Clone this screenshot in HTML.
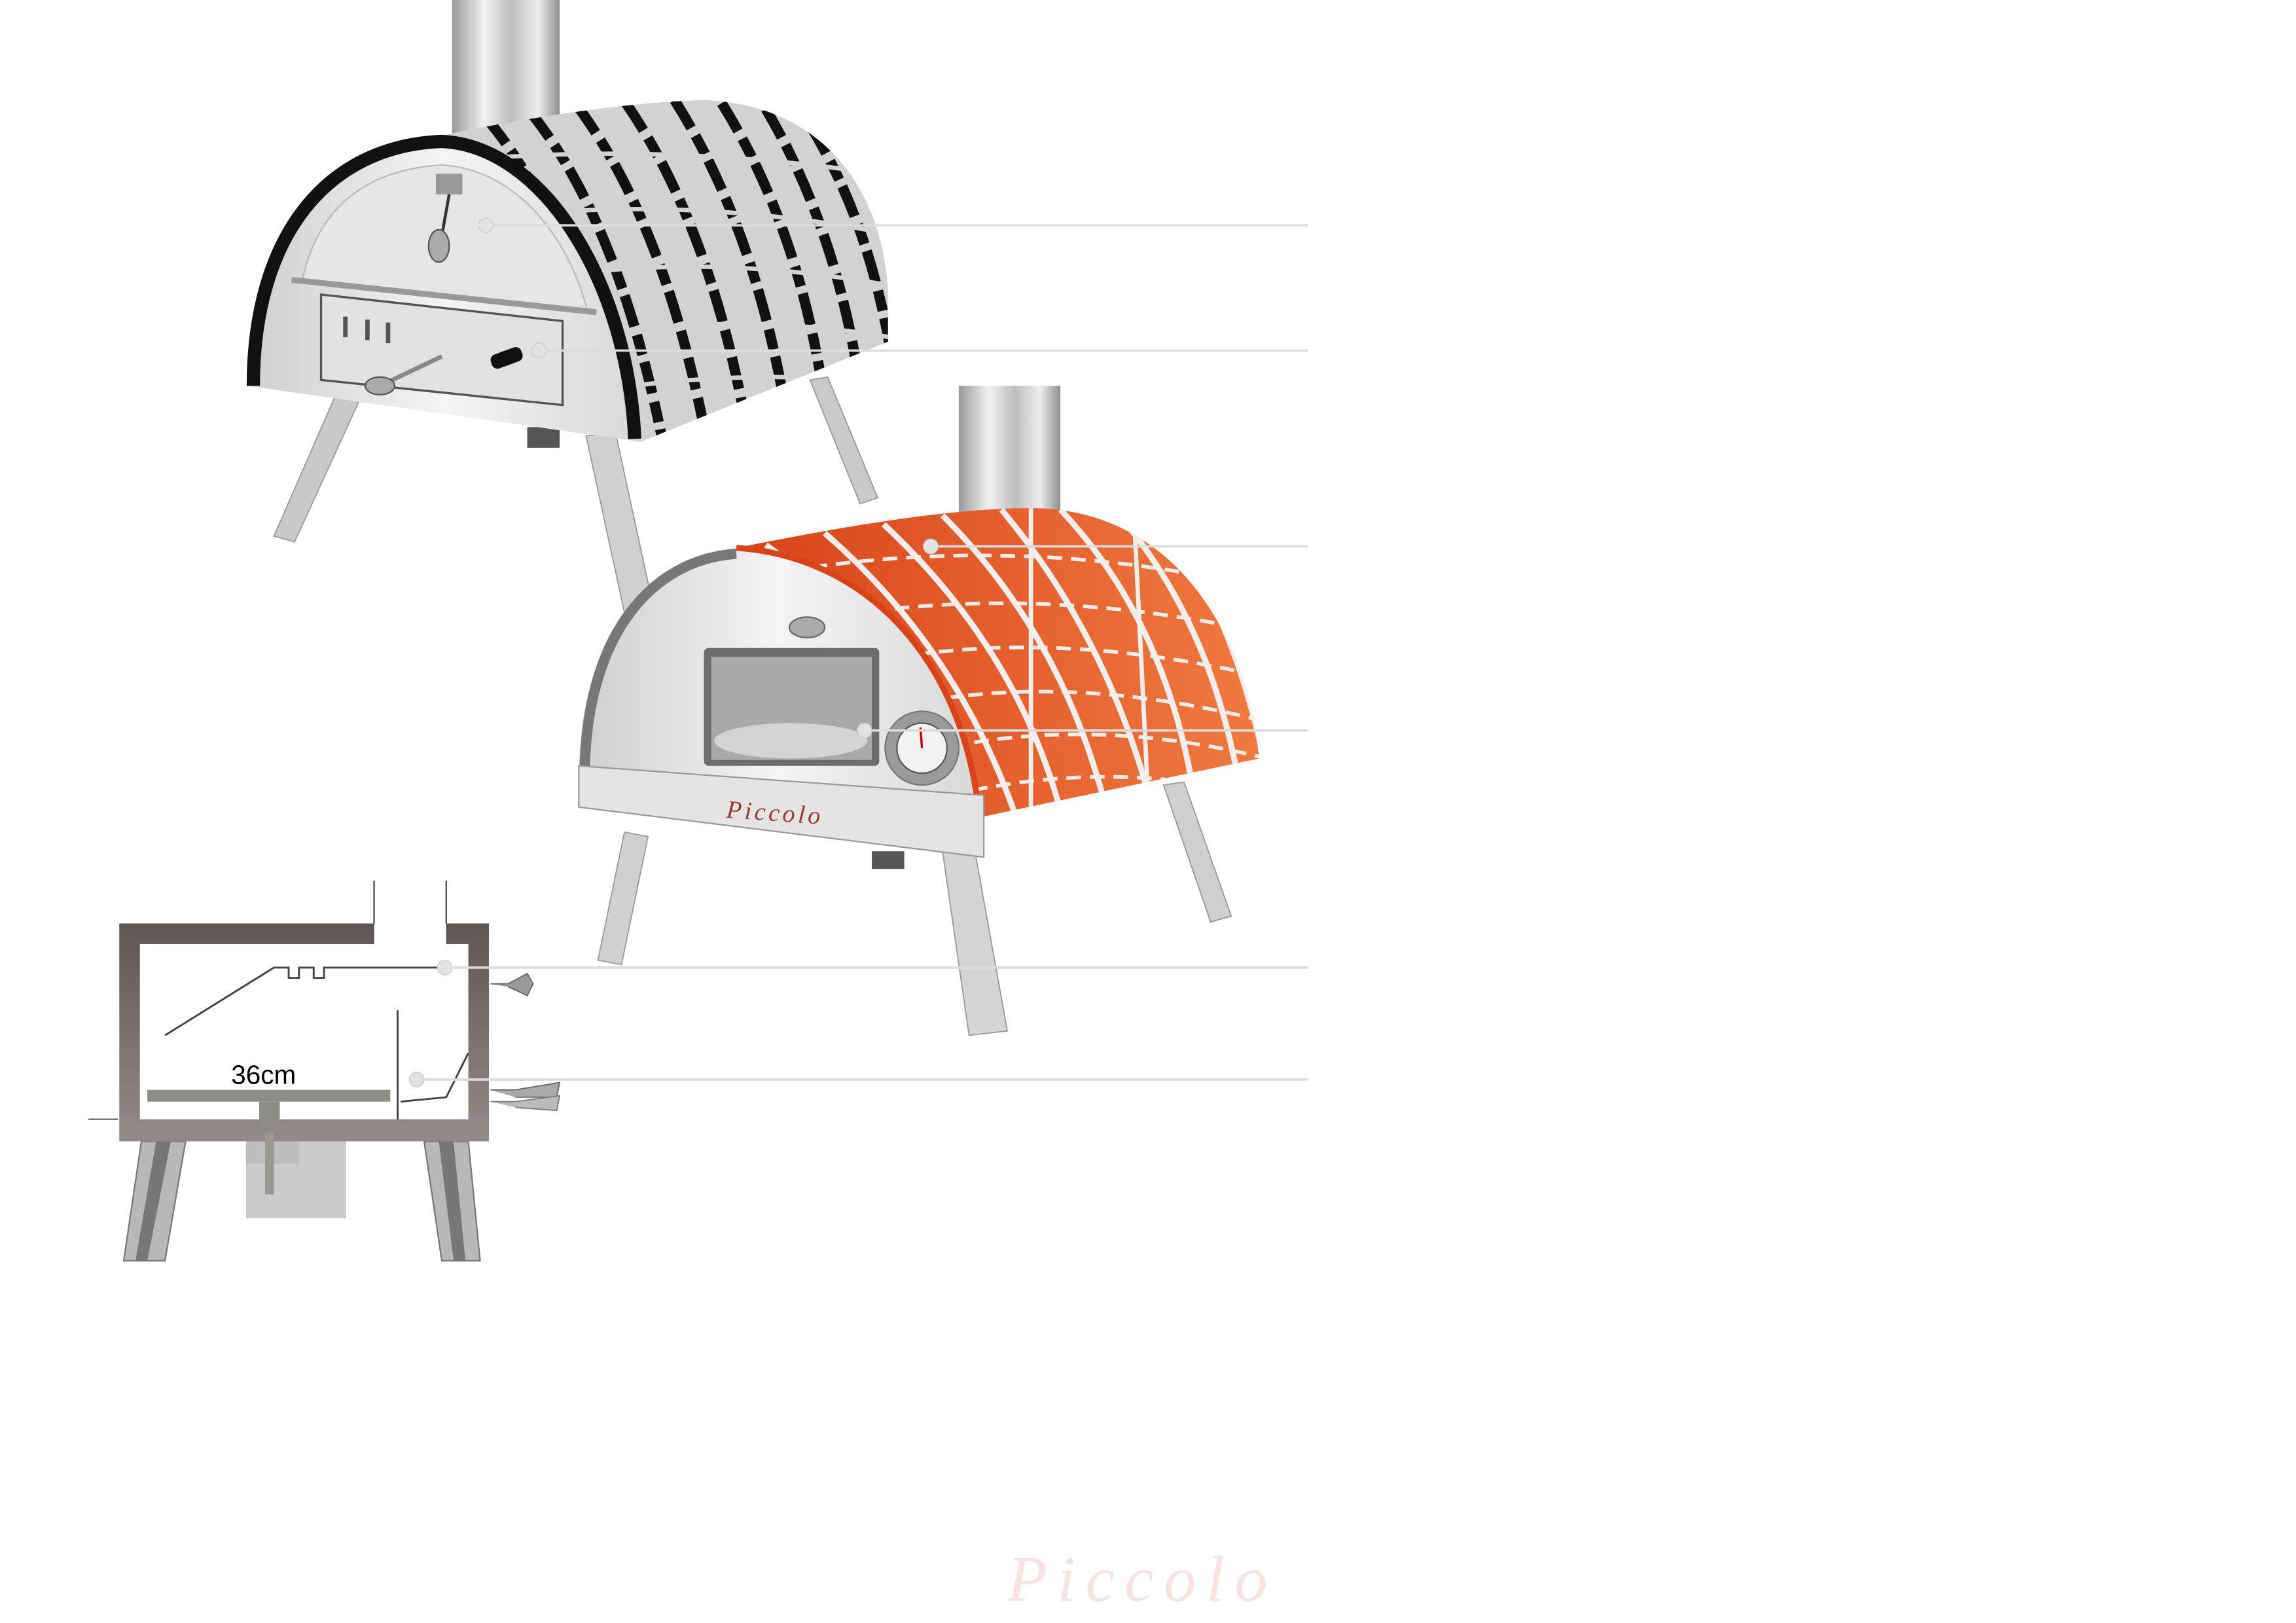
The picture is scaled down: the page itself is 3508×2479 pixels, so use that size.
<!DOCTYPE html>
<html><head><meta charset="utf-8"><style>
html,body{margin:0;padding:0;background:#fff;}
svg{display:block;}
</style></head><body>
<svg width="3508" height="2479" viewBox="0 0 1559 1102" preserveAspectRatio="none" xmlns="http://www.w3.org/2000/svg">
<defs>
<linearGradient id="steel" x1="0" x2="1"><stop offset="0" stop-color="#9a9a9a"/><stop offset="0.3" stop-color="#f2f2f2"/><stop offset="0.55" stop-color="#bdbdbd"/><stop offset="0.8" stop-color="#eeeeee"/><stop offset="1" stop-color="#8d8d8d"/></linearGradient>
<linearGradient id="front1" x1="0" x2="1"><stop offset="0" stop-color="#cfcfcf"/><stop offset="0.5" stop-color="#f4f4f4"/><stop offset="1" stop-color="#d8d8d8"/></linearGradient>
<linearGradient id="brown" x1="0" y1="0" x2="0" y2="1"><stop offset="0" stop-color="#5e5554"/><stop offset="1" stop-color="#938b8a"/></linearGradient>
<linearGradient id="orange" x1="0" x2="1"><stop offset="0" stop-color="#d8431a"/><stop offset="1" stop-color="#ef7a40"/></linearGradient>
<clipPath id="body1"><path d="M300,92 C380,75 450,68 480,68 C560,72 600,130 603,200 L603,232 L435,300 C430,190 370,95 300,92 Z"/></clipPath>
<clipPath id="body2"><path d="M500,372 C560,360 640,345 700,345 C790,345 845,420 855,515 L665,555 C660,460 600,385 500,372 Z"/></clipPath>
</defs>

<!-- ===== Oven 1 ===== -->
<rect x="307" y="0" width="73" height="95" fill="url(#steel)"/>
<polygon points="228,268 244,272 200,368 186,364" fill="#c9c9c9" stroke="#999" stroke-width="0.8"/>
<polygon points="550,258 562,256 596,338 584,342" fill="#cacaca" stroke="#999" stroke-width="0.8"/>
<polygon points="398,296 418,294 444,414 424,416" fill="#d0d0d0" stroke="#999" stroke-width="0.8"/>
<rect x="358" y="290" width="22" height="14" fill="#555"/>
<path d="M300,92 C380,75 450,68 480,68 C560,72 600,130 603,200 L603,232 L435,300 C430,190 370,95 300,92 Z" fill="#d2d2d2"/>
<g clip-path="url(#body1)" fill="none" stroke="#111" stroke-width="7" stroke-dasharray="22 6 14 5">
<path d="M330,80 Q390,150 420,300"/>
<path d="M360,76 Q420,150 450,300"/>
<path d="M392,72 Q450,150 478,290"/>
<path d="M425,70 Q480,150 505,280"/>
<path d="M458,68 Q510,150 532,270"/>
<path d="M490,70 Q540,150 558,260"/>
<path d="M520,74 Q565,150 582,250"/>
<path d="M550,85 Q590,150 605,240"/>
</g>
<g clip-path="url(#body1)" fill="none" stroke="#d2d2d2" stroke-width="3">
<path d="M300,110 Q450,95 610,120"/><path d="M320,150 Q460,130 610,160"/><path d="M360,190 Q480,170 610,195"/><path d="M390,230 Q500,210 610,230"/><path d="M410,265 Q500,250 610,260"/>
</g>
<path d="M168,262 C168,160 220,95 300,92 C370,95 430,190 435,300 Z" fill="url(#front1)"/>
<path d="M172,262 C172,160 222,99 300,96 C368,99 426,190 431,298" fill="none" stroke="#111" stroke-width="9"/>
<path d="M205,192 C215,140 250,115 300,112 C350,115 385,160 398,208" fill="#e6e6e6" stroke="#bbb" stroke-width="1"/>
<rect x="296" y="118" width="18" height="14" fill="#999"/>
<line x1="305" y1="132" x2="300" y2="160" stroke="#333" stroke-width="2"/>
<ellipse cx="298" cy="167" rx="7" ry="11" fill="#aaa" stroke="#555"/>
<line x1="198" y1="190" x2="405" y2="212" stroke="#999" stroke-width="4"/>
<polygon points="218,200 382,218 382,275 218,258" fill="#e2e2e2" stroke="#555" stroke-width="1.5"/>
<rect x="233" y="215" width="3" height="14" fill="#555"/><rect x="248" y="217" width="3" height="14" fill="#555"/><rect x="262" y="219" width="3" height="14" fill="#555"/>
<line x1="258" y1="262" x2="300" y2="242" stroke="#888" stroke-width="3"/>
<ellipse cx="258" cy="262" rx="10" ry="6" fill="#aaa" stroke="#555"/>
<rect x="333" y="238" width="22" height="10" rx="4" fill="#111" transform="rotate(-20 344 243)"/>

<!-- ===== Oven 2 ===== -->
<rect x="651" y="262" width="69" height="95" fill="url(#steel)"/>
<polygon points="424,565 440,568 422,655 406,652" fill="#d0d0d0" stroke="#999" stroke-width="0.8"/>
<polygon points="790,533 804,531 836,622 822,626" fill="#cfcfcf" stroke="#999" stroke-width="0.8"/>
<polygon points="640,578 662,578 684,700 658,703" fill="#d4d4d4" stroke="#999" stroke-width="0.8"/>
<rect x="592" y="578" width="22" height="12" fill="#555"/>
<path d="M500,372 C560,360 640,345 700,345 C790,345 845,420 855,515 L665,555 C660,460 600,385 500,372 Z" fill="url(#orange)"/>
<g clip-path="url(#body2)" fill="none" stroke="#f1eeec" stroke-width="4">
<path d="M520,370 Q620,440 660,560"/><path d="M560,362 Q650,440 690,555"/><path d="M600,356 Q690,440 720,550"/><path d="M640,350 Q720,430 750,545"/><path d="M680,346 Q750,430 780,540"/><path d="M720,346 Q790,420 810,535"/><path d="M760,350 Q820,420 840,525"/><path d="M800,365 Q840,430 858,515"/>
<path d="M700,345 L700,560" stroke-width="3"/><path d="M770,350 L780,550" stroke-width="3"/>
</g>
<g clip-path="url(#body2)" fill="none" stroke="#f1eeec" stroke-width="2.5" stroke-dasharray="10 6">
<path d="M520,390 Q690,360 860,400"/><path d="M560,420 Q700,395 860,430"/><path d="M590,450 Q710,425 860,460"/><path d="M610,480 Q720,455 860,490"/><path d="M630,510 Q740,485 860,515"/><path d="M645,540 Q750,515 860,540"/>
</g>
<path d="M393,530 C393,430 440,376 500,372 C590,378 655,450 665,555 Z" fill="url(#front1)"/>
<path d="M397,528 C397,432 442,380 500,376" fill="none" stroke="#777" stroke-width="7"/>
<path d="M500,372 C590,378 655,450 665,555" fill="none" stroke="#d8431a" stroke-width="4"/>
<rect x="478" y="440" width="119" height="80" rx="3" fill="#6d6d6d"/>
<rect x="483" y="446" width="109" height="70" fill="#a9a9a9"/>
<ellipse cx="537" cy="503" rx="52" ry="12" fill="#d4d4d4"/>
<ellipse cx="548" cy="426" rx="12" ry="7" fill="#aaa" stroke="#666"/>
<circle cx="626" cy="508" r="25" fill="#9a9a9a" stroke="#777"/>
<circle cx="626" cy="508" r="17" fill="#f2f2f2" stroke="#555"/>
<line x1="626" y1="508" x2="625" y2="494" stroke="#c00" stroke-width="1.5"/>
<polygon points="393,520 668,540 668,582 393,548" fill="#e4e4e4" stroke="#999" stroke-width="1"/>
<text x="493" y="557" font-family="Liberation Serif, serif" font-style="italic" font-size="17" fill="#9b3a2c" letter-spacing="2" transform="rotate(4 520 555)">Piccolo</text>

<!-- ===== Cross section ===== -->
<line x1="60" y1="760" x2="80" y2="760" stroke="#666" stroke-width="1"/>
<polygon points="96,775 126,775 112,856 84,856" fill="#b8b8b8" stroke="#777" stroke-width="1"/>
<polygon points="106,775 116,775 100,856 92,856" fill="#777"/>
<polygon points="288,775 318,775 326,856 300,856" fill="#b8b8b8" stroke="#777" stroke-width="1"/>
<polygon points="298,775 308,775 316,856 308,856" fill="#777"/>
<rect x="167" y="755" width="68" height="72" fill="#cbcbcb"/>
<rect x="167" y="755" width="36" height="35" fill="#bdbdbd"/>
<path d="M81,627 L254,627 L254,641 L303,641 L303,627 L332,627 L332,775 L81,775 Z" fill="url(#brown)"/>
<line x1="254" y1="598" x2="254" y2="641" stroke="#444" stroke-width="1"/>
<line x1="303" y1="598" x2="303" y2="641" stroke="#444" stroke-width="1"/>
<rect x="254" y="627" width="49" height="16" fill="#fff"/>
<rect x="95" y="641" width="223" height="119" fill="#fff"/>
<path d="M112,703 L186,657 L196,657 L196,664 L203,664 L203,657 L213,657 L213,664 L220,664 L220,657 L318,657" fill="none" stroke="#444" stroke-width="1.3"/>
<line x1="270" y1="686" x2="270" y2="760" stroke="#444" stroke-width="1.3"/>
<path d="M318,715 L303,745 L272,748" fill="none" stroke="#444" stroke-width="1.3"/>
<rect x="100" y="740" width="165" height="8" fill="#8e8c86"/>
<rect x="176" y="748" width="14" height="21" fill="#8e8c86"/>
<rect x="180" y="769" width="6" height="42" fill="#9a9893"/>
<text x="157" y="736" font-family="Liberation Sans, sans-serif" font-size="18" fill="#000">36cm</text>
<path d="M333,668 L345,668 L358,661 L362,668 L358,676 L345,670" fill="#999" stroke="#666" stroke-width="0.8"/>
<path d="M333,740 L350,740 L380,735 L378,745 L350,745" fill="#aaa" stroke="#666" stroke-width="0.8"/>
<path d="M333,748 L350,748 L380,744 L378,754 L350,752" fill="#bbb" stroke="#777" stroke-width="0.8"/>

<!-- ===== Leader lines ===== -->
<g stroke="#dcdcdc" stroke-width="1.6">
<line x1="330" y1="153" x2="888" y2="153"/>
<line x1="370" y1="238" x2="888" y2="238"/>
<line x1="632" y1="371" x2="888" y2="371"/>
<line x1="587" y1="496" x2="888" y2="496"/>
<line x1="302" y1="657" x2="888" y2="657"/>
<line x1="283" y1="733" x2="888" y2="733"/>
</g>
<g fill="#e2e2e2" stroke="#ccc" stroke-width="0.6">
<circle cx="330" cy="153" r="5"/><circle cx="366" cy="238" r="5"/><circle cx="632" cy="371" r="5"/><circle cx="587" cy="496" r="5"/><circle cx="302" cy="657" r="5"/><circle cx="283" cy="733" r="5"/>
</g>

<text x="684" y="1087" font-family="Liberation Serif, serif" font-style="italic" font-size="44" fill="#f7e1e1" letter-spacing="7">Piccolo</text>
</svg>
</body></html>
